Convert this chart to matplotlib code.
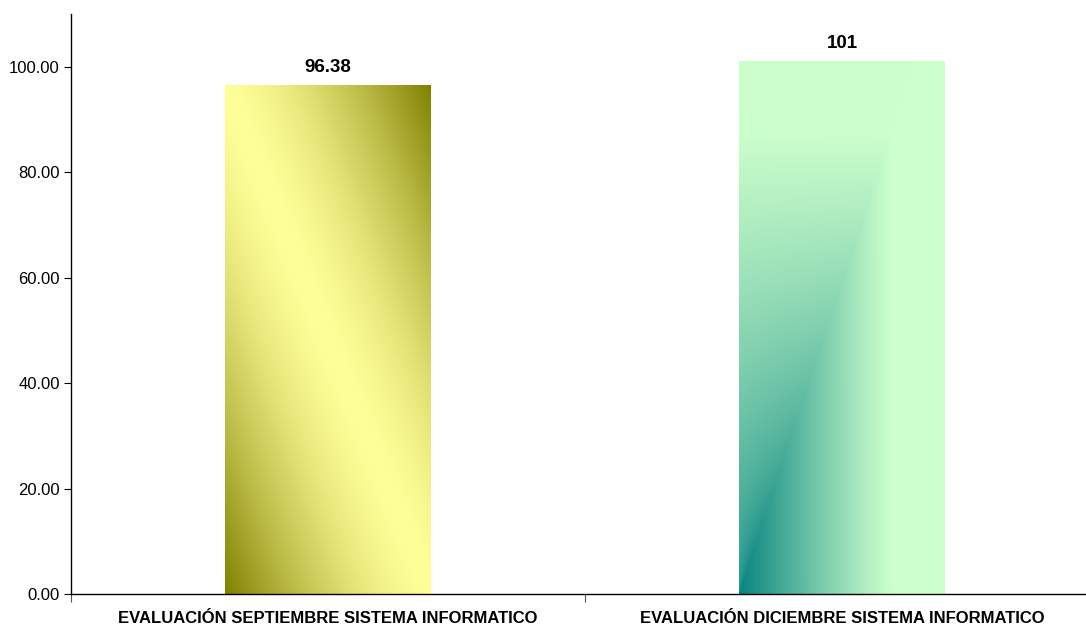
import numpy as np
import matplotlib.pyplot as plt
from matplotlib.colors import to_rgb

plt.rcParams['font.family'] = ['Liberation Sans', 'DejaVu Sans']

# Data
categories = ['EVALUACIÓN SEPTIEMBRE SISTEMA INFORMATICO',
              'EVALUACIÓN DICIEMBRE SISTEMA INFORMATICO']
values = [96.38, 101]
value_labels = ['96.38', '101']
yticks = [0, 20, 40, 60, 80, 100]


def grad_yellow(n=300):
    # olive at bottom-left and top-right corners, pale yellow along the other diagonal
    u, v = np.meshgrid(np.linspace(0, 1, n), np.linspace(0, 1, n))
    t = np.clip(np.abs(u + v - 1), 0, 1) ** 1.5
    c0 = np.array(to_rgb('#FFFF99'))
    c1 = np.array(to_rgb('#808000'))
    return c0 + (c1 - c0) * t[..., None]


def grad_green(n=300):
    # teal from bottom-left, fading to light green, with a ridge running up-right
    u, v = np.meshgrid(np.linspace(0, 1, n), np.linspace(0, 1, n))
    ridge_u = 0.85 * v
    d_ridge = np.clip(1 - 1.15 * v, 0, 1)
    right = d_ridge - (u - ridge_u) * 1.35
    rel = np.clip((ridge_u - u) / np.maximum(ridge_u, 1e-6), 0, 1)
    left = d_ridge * (1 - 0.25 * rel) + 0.08 * rel * np.clip(1 - v, 0, 1)
    d = np.where(u >= ridge_u, right, left)
    d = np.clip(d, 0, 1) ** 1.1
    c0 = np.array(to_rgb('#CCFFCC'))
    c1 = np.array(to_rgb('#088480'))
    return c0 + (c1 - c0) * d[..., None]


fig = plt.figure(figsize=(10.86, 6.26), dpi=100)
ax = fig.add_axes([71 / 1086, 1 - 594 / 626, 1028 / 1086, 580 / 626])

x = np.arange(len(categories))
bars = ax.bar(x, values, width=0.40, color='none', edgecolor='none')

for rect, img in zip(bars, [grad_yellow(), grad_green()]):
    x0, y0 = rect.get_x(), rect.get_y()
    w, h = rect.get_width(), rect.get_height()
    ax.imshow(img, extent=[x0, x0 + w, y0, y0 + h], origin='lower',
              aspect='auto', interpolation='bilinear', zorder=2)

for xi, val, lab in zip(x, values, value_labels):
    ax.annotate(lab, (xi, val), xytext=(0, 7), textcoords='offset points',
                ha='center', va='bottom', fontsize=13.5, fontweight='bold')

ax.set_xlim(-0.5, 1.5)
ax.set_ylim(0, 110)
ax.set_yticks(yticks)
ax.set_yticklabels(['%.2f' % t for t in yticks], fontsize=12)
ax.set_xticks(x)
ax.set_xticklabels(categories, fontsize=12, fontweight='bold')
ax.tick_params(axis='x', which='major', length=0, pad=12)
ax.set_xticks([-0.5, 0.5, 1.5], minor=True)
ax.tick_params(axis='x', which='minor', length=6, width=0.8, color='#555555')
ax.tick_params(axis='y', length=5, width=0.8, pad=3)

for s in ['top', 'right']:
    ax.spines[s].set_visible(False)
ax.spines['left'].set_linewidth(1)
ax.spines['bottom'].set_linewidth(1)

fig.savefig('out.png', dpi=100)
